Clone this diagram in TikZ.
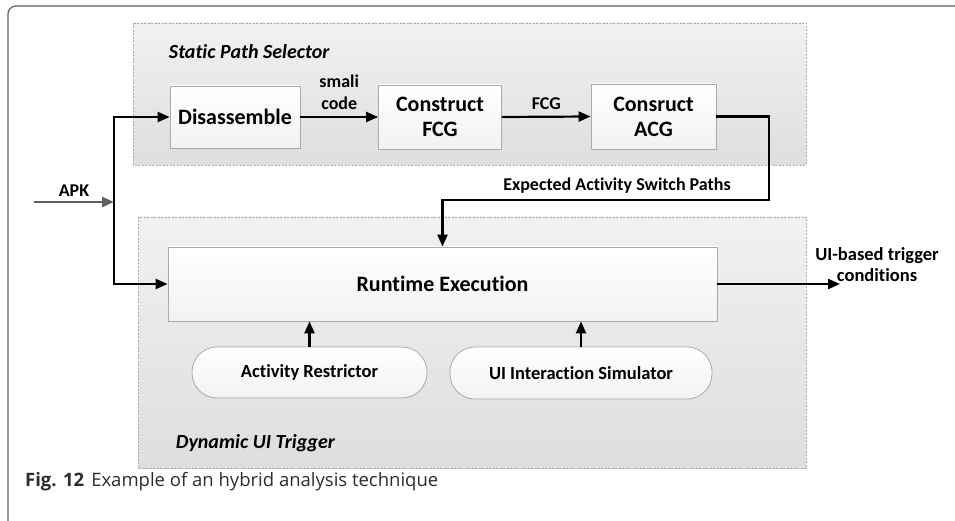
\documentclass[tikz,border=0pt]{standalone}
\usepackage{fontspec}
\setmainfont[Ligatures=NoCommon]{Carlito}
\newfontfamily\capfont{Open Sans}
\usetikzlibrary{arrows.meta,positioning}
\definecolor{panelA}{RGB}{241,241,239}
\definecolor{panelB}{RGB}{222,223,220}
\definecolor{edgegray}{RGB}{170,170,168}
\definecolor{apkgray}{RGB}{95,95,95}
\definecolor{capgray}{RGB}{45,45,45}
\tikzset{
  panel/.style={draw=edgegray, dash pattern=on 2pt off 1.5pt, line width=0.8pt, top color=panelA, bottom color=panelB},
  panellbl/.style={font=\bfseries\itshape\fontsize{20}{22}\selectfont, anchor=west, inner sep=0.75pt},
  block/.style={draw=edgegray, line width=0.8pt, top color=white, bottom color=gray!10, align=center, inner sep=0pt, font=\bfseries\fontsize{22}{25}\selectfont},
  pill/.style={block, rounded corners=25pt, font=\bfseries\fontsize{18.5}{20}\selectfont},
  flow/.style={line width=2.2pt, -{Triangle[length=12pt,width=10pt]}},
  lbl/.style={font=\bfseries\fontsize{18}{21}\selectfont, inner sep=0.75pt, align=center, text=black},
}

\begin{document}
\begin{tikzpicture}[x=1pt,y=1pt,yscale=-1,xscale=1]
\useasboundingbox (0,0) rectangle (955,521);

%Outer frame
\draw [color=apkgray, line width=1.2pt] (8,521) -- (8,14) arc[start angle=180, end angle=270, radius=8] -- (955,6);

%Panels
\draw [panel] (133,23) rectangle (806,165);
\draw [panel] (138,217) rectangle (806,468);
\node [panellbl] (static) at (168,52) {Static Path Selector};
\node [panellbl] (dynamic) at (175,443) {Dynamic UI Trigger};

%Blocks
\node [block, minimum width=130, minimum height=62] (disasm) at (235,117) {Disassemble};
\node [block, minimum width=123, minimum height=64] (cfcg) at (440,117) {Construct\\FCG};
\node [block, minimum width=125, minimum height=65] (cacg) at (653.5,116.5) {Consruct\\ACG};
\node [block, minimum width=549, minimum height=74] (runtime) at (442.5,284) {Runtime Execution};
\node [pill, minimum width=235, minimum height=51] (restr) at (309.5,372.5) {Activity Restrictor};
\node [pill, minimum width=262, minimum height=52] (uisim) at (581,373) {UI Interaction Simulator};

%Coordinates
\coordinate (apk) at (34,202);
\coordinate (jn) at (114,202);
\coordinate (bend) at (769,200);
\coordinate (outend) at (840,284);

%Connectors
\draw [flow, color=apkgray] (apk) -- node [lbl, above=4pt] (apklbl) {APK} (jn);
\draw [flow] (jn) |- (disasm.west);
\draw [flow] (jn) |- (runtime.west);
\draw [flow] (disasm.east) -- node [lbl, above=6pt, font=\bfseries\fontsize{18}{22}\selectfont] (smali) {smali\\code} (cfcg.west);
\draw [flow] (cfcg.east) -- node [lbl, above=5pt] (fcglbl) {FCG} (cacg.west);
\draw [flow] (cacg.east) -| (bend) -| (runtime.north);
\draw [flow] (restr.north) -- (restr.north |- runtime.south);
\draw [flow] (uisim.north) -- (uisim.north |- runtime.south);
\draw [flow] (runtime.east) -- (outend);

% Text Node
\node [lbl] (expect) at (617,186) {Expected Activity Switch Paths};
% Text Node
\node [lbl, font=\bfseries\fontsize{18.5}{21}\selectfont] (outlbl) at (877,265) {UI-based trigger\\conditions};
% Text Node
\node [anchor=west, inner sep=0pt, text=capgray, font=\capfont\fontsize{18.5}{20}\selectfont] (caption) at (25,482) {\textbf{Fig. 12}\hspace{7pt}Example of an hybrid analysis technique};

\end{tikzpicture}
\end{document}
